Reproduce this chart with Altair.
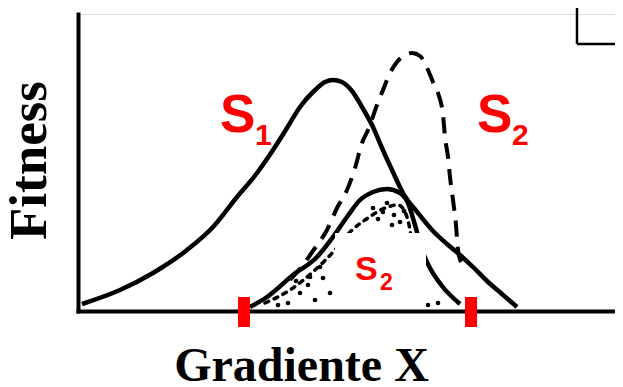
import altair as alt
import pandas as pd

# --- values (x = position on the gradient, y = fitness) ---
s1_x = [4, 42, 75, 109, 135, 159, 179, 195, 209, 222, 237, 247, 255, 264, 274, 284, 295, 304, 314, 325, 340, 355, 369, 382, 396, 409, 424, 439]
s1_y = [7, 21, 38, 61, 84, 114, 138, 161, 183, 204, 221, 229, 231, 229, 220, 204, 184, 163, 141, 118, 98, 80, 67, 56, 43, 30, 17, 4]

s2_fund_x = [212, 225, 237, 249, 259, 269, 277, 284, 290, 299, 305, 312, 319, 327, 334, 342, 350, 355, 360, 365, 367, 370, 372, 375, 378, 380, 383]
s2_fund_y = [31, 46, 63, 81, 103, 121, 143, 168, 181, 206, 221, 238, 249, 256, 258, 255, 241, 229, 218, 196, 174, 154, 134, 111, 86, 61, 49]

s2_real_x = [172, 189, 215, 239, 255, 269, 282, 295, 309, 322, 330, 337, 344, 352, 364, 382]
s2_real_y = [4, 14, 36, 54, 74, 94, 111, 119, 122, 118, 108, 86, 61, 43, 25, 7]

inner_x = [187, 212, 237, 257, 272, 290, 307, 320, 327, 332, 336, 340, 342]
inner_y = [8, 21, 41, 61, 79, 93, 103, 106, 99, 81, 51, 21, 6]

dots_x = [232, 245, 230, 237, 252, 222, 295, 305, 309, 322, 314, 270, 285, 210, 200, 218, 242, 300, 316, 326, 360, 350]
dots_y = [34, 33, 26, 11, 18, 18, 103, 99, 108, 89, 86, 12, 8, 8, 6, 30, 44, 92, 96, 100, 8, 6]

range_x = [166, 393]          # limits of the realized range (red marks)
range_lo = [-16, -16]
range_hi = [14, 14]

box_x1, box_x2, box_y1, box_y2 = [257], [348], [2.5], [78]

corner_x1, corner_x2 = [499, 499], [499, 560]
corner_y1, corner_y2 = [267, 267], [320, 267]

big_text = ["S", "S"]
big_x = [142, 399]
big_y = [179, 179]
sub_text = ["1", "2"]
sub_x = [177, 434]
sub_y = [166, 166]
box_text = ["S"]
box_tx = [277]
box_ty = [31]
box_sub = ["2"]
box_sx = [302]
box_sy = [21]

RED = "#ff0000"

xs = alt.Scale(domain=[0, 537], nice=False, zero=False)
ys = alt.Scale(domain=[0, 297], nice=False, zero=False)

xaxis = alt.Axis(title="Gradiente X", ticks=False, labels=False, grid=False,
                 domainColor="black", domainWidth=4, domainCap="square",
                 titleFont="Liberation Serif", titleFontSize=48, titleFontWeight="bold",
                 titleColor="black", titleX=223, titleY=69, titleAlign="center",
                 titleBaseline="alphabetic")
yaxis = alt.Axis(title="Fitness", ticks=False, labels=False, grid=False,
                 domainColor="black", domainWidth=4, domainCap="square",
                 titleFont="Liberation Serif", titleFontSize=53, titleFontWeight="bold",
                 titleColor="black", titleAngle=270, titleX=-33, titleY=146,
                 titleAlign="center", titleBaseline="alphabetic")

X = alt.X("x:Q", scale=xs, axis=xaxis)
Y = alt.Y("y:Q", scale=ys, axis=yaxis)

s1 = alt.Chart(pd.DataFrame({"x": s1_x, "y": s1_y})).mark_line(
    color="black", strokeWidth=4.5, interpolate="monotone", clip=False).encode(x=X, y=Y)

s2f = alt.Chart(pd.DataFrame({"x": s2_fund_x, "y": s2_fund_y})).mark_line(
    color="black", strokeWidth=4, strokeDash=[16, 10], interpolate="monotone").encode(x=X, y=Y)

s2r = alt.Chart(pd.DataFrame({"x": s2_real_x, "y": s2_real_y})).mark_line(
    color="black", strokeWidth=4.5, interpolate="monotone").encode(x=X, y=Y)

inner = alt.Chart(pd.DataFrame({"x": inner_x, "y": inner_y})).mark_line(
    color="black", strokeWidth=3.5, strokeDash=[4, 6], strokeCap="round",
    interpolate="monotone").encode(x=X, y=Y)

dots = alt.Chart(pd.DataFrame({"x": dots_x, "y": dots_y})).mark_circle(
    color="black", size=22, opacity=1).encode(x=X, y=Y)

box = alt.Chart(pd.DataFrame({"x": box_x1, "x2": box_x2, "y": box_y1, "y2": box_y2})).mark_rect(
    color="white", opacity=1).encode(x=X, x2="x2:Q", y=Y, y2="y2:Q")

ticks = alt.Chart(pd.DataFrame({"x": range_x, "y": range_lo, "y2": range_hi})).mark_rule(
    color=RED, strokeWidth=12, clip=False).encode(x=X, y=Y, y2="y2:Q")

corner = alt.Chart(pd.DataFrame({"x": corner_x1, "x2": corner_x2, "y": corner_y1, "y2": corner_y2})).mark_rule(
    color="black", strokeWidth=2.5, clip=False).encode(x=X, x2="x2:Q", y=Y, y2="y2:Q")

def label(texts, xv, yv, size):
    return alt.Chart(pd.DataFrame({"x": xv, "y": yv, "t": texts})).mark_text(
        color=RED, font="Liberation Sans", fontWeight="bold", fontSize=size,
        align="left", baseline="alphabetic").encode(x=X, y=Y, text="t:N")

chart = alt.layer(
    s1, s2f, s2r, inner, dots, box, corner, ticks,
    label(big_text, big_x, big_y, 53),
    label(sub_text, sub_x, sub_y, 30),
    label(box_text, box_tx, box_ty, 34),
    label(box_sub, box_sx, box_sy, 23),
).properties(
    width=537, height=297,
    autosize=alt.AutoSizeParams(type="none"),
    padding={"left": 70, "top": 6, "right": 0, "bottom": 72},
).configure_view(stroke=None).configure(background="white")

chart.save("out.html", embed_options={"renderer": "svg", "actions": False})
